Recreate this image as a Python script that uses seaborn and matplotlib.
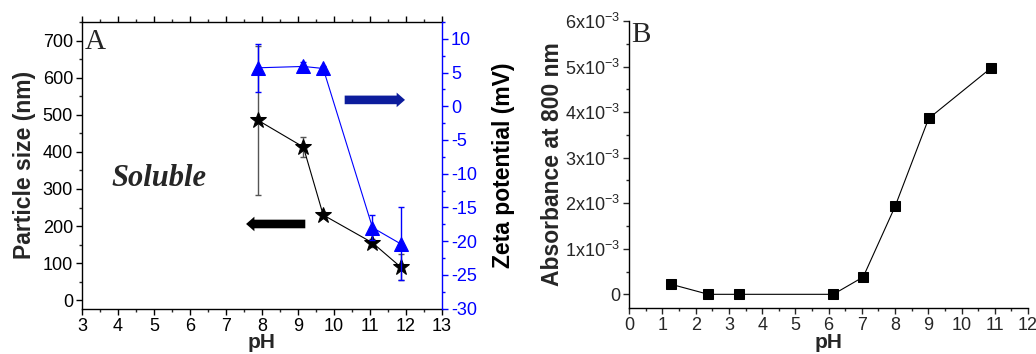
import matplotlib
matplotlib.use("Agg")
import matplotlib.pyplot as plt
import seaborn as sns
import pandas as pd
from matplotlib.ticker import MultipleLocator, FixedLocator, FixedFormatter

# ---------------- data ----------------
ph_size = [7.89, 9.15, 9.70, 11.07, 11.85]
size_nm = [485, 413, 230, 155, 90]
size_err = [200, 28, 8, 10, 34]

ph_zeta = [7.89, 9.15, 9.70, 11.07, 11.85]
zeta_mv = [5.7, 5.9, 5.6, -18.0, -20.4]
zeta_err = [3.6, 0.6, 0.3, 1.8, 5.4]

ph_abs = [1.26, 2.38, 3.31, 6.14, 7.04, 8.0, 9.01, 10.89]
absorb = [0.00022, 0.0, 0.0, 0.0, 0.00038, 0.00193, 0.00386, 0.00497]

abs_ticks = [0, 0.001, 0.002, 0.003, 0.004, 0.005, 0.006]
abs_tick_labels = ["0", r"$\mathregular{1x10^{-3}}$", r"$\mathregular{2x10^{-3}}$",
                   r"$\mathregular{3x10^{-3}}$", r"$\mathregular{4x10^{-3}}$",
                   r"$\mathregular{5x10^{-3}}$", r"$\mathregular{6x10^{-3}}$"]

# ---------------- style ----------------
sns.set_style("ticks")
plt.rcParams["font.family"] = ["Liberation Sans", "DejaVu Sans"]
plt.rcParams["mathtext.default"] = "regular"
plt.rcParams["axes.unicode_minus"] = False

BLUE = "#0000ff"
NAVY = "#0c1c9c"
TICK_FS = 13
LABEL_FS = 16.5
XLABEL_FS = 15

fig = plt.figure(figsize=(10.36, 3.54), dpi=100)
axA = fig.add_axes([0.0792, 0.1285, 0.3474, 0.8095])
axZ = axA.twinx()
axB = fig.add_axes([0.6074, 0.130, 0.3849, 0.8107])

df_size = pd.DataFrame({"pH": ph_size, "size": size_nm})
df_zeta = pd.DataFrame({"pH": ph_zeta, "zeta": zeta_mv})
df_abs = pd.DataFrame({"pH": ph_abs, "abs": absorb})

# ---- panel A: particle size ----
axA.errorbar(ph_size, size_nm, yerr=size_err, fmt="none", ecolor="#555555",
             elinewidth=1.0, capsize=2.5, capthick=1.0, zorder=2)
sns.lineplot(data=df_size, x="pH", y="size", ax=axA, color="black", lw=0.8,
             marker="*", markersize=12, markerfacecolor="black",
             markeredgecolor="black", sort=False, zorder=3)

# ---- panel A: zeta potential ----
axZ.errorbar(ph_zeta, zeta_mv, yerr=zeta_err, fmt="none", ecolor=BLUE,
             elinewidth=1.0, capsize=2.5, capthick=1.0, zorder=2)
sns.lineplot(data=df_zeta, x="pH", y="zeta", ax=axZ, color=BLUE, lw=0.8,
             marker="^", markersize=10, markerfacecolor=BLUE,
             markeredgecolor=BLUE, sort=False, zorder=3)

axA.set_xlim(3, 13)
axA.set_ylim(-22, 750)
axZ.set_ylim(-30, 12.5)

axA.xaxis.set_major_locator(MultipleLocator(1))
axA.xaxis.set_minor_locator(MultipleLocator(0.5))
axA.yaxis.set_major_locator(MultipleLocator(100))
axA.yaxis.set_minor_locator(MultipleLocator(50))
axZ.yaxis.set_major_locator(MultipleLocator(5))
axZ.yaxis.set_minor_locator(MultipleLocator(2.5))

for sp in axA.spines.values():
    sp.set_linewidth(1.0)
    sp.set_color("black")
axZ.spines["right"].set_color(BLUE)
axZ.spines["right"].set_linewidth(1.0)
axZ.spines["left"].set_visible(False)
axZ.spines["top"].set_visible(False)
axZ.spines["bottom"].set_visible(False)
axA.spines["right"].set_visible(False)

axA.tick_params(axis="both", which="major", direction="out", length=4.5, width=1.0,
                labelsize=TICK_FS, pad=2, colors="black")
axA.tick_params(axis="both", which="minor", direction="out", length=2.5, width=1.0)
axA.tick_params(axis="x", which="both", top=True)
axZ.tick_params(axis="y", which="major", direction="out", length=4.5, width=1.0,
                labelsize=TICK_FS, pad=2, colors=BLUE)
axZ.tick_params(axis="y", which="minor", direction="out", length=2.5, width=1.0,
                colors=BLUE)

axA.set_xlabel("pH", fontsize=XLABEL_FS, fontweight="bold", labelpad=-1)
axA.set_ylabel("Particle size (nm)", fontsize=LABEL_FS, fontweight="bold", labelpad=5)
axZ.set_ylabel("Zeta potential (mV)", fontsize=LABEL_FS, fontweight="bold", labelpad=11,
               color="black")

axA.text(0.008, 0.975, "A", transform=axA.transAxes, ha="left", va="top",
         fontsize=21, family="Liberation Serif")
axA.text(0.083, 0.455, "Soluble", transform=axA.transAxes, ha="left", va="center",
         fontsize=22, family="Liberation Serif", style="italic", fontweight="bold")

axZ.annotate("", xy=(0.905, 0.728), xytext=(0.722, 0.728), xycoords="axes fraction",
             arrowprops=dict(arrowstyle="simple,head_length=0.6,head_width=1.05,tail_width=0.62",
                             mutation_scale=10, color=NAVY, lw=0))
axZ.annotate("", xy=(0.448, 0.295), xytext=(0.628, 0.295), xycoords="axes fraction",
             arrowprops=dict(arrowstyle="simple,head_length=0.6,head_width=1.05,tail_width=0.62",
                             mutation_scale=10, color="black", lw=0))

# ---- panel B ----
sns.lineplot(data=df_abs, x="pH", y="abs", ax=axB, color="black", lw=0.8,
             marker="s", markersize=7.5, markerfacecolor="black",
             markeredgecolor="black", sort=False)
axB.set_xlim(0, 12)
axB.set_ylim(-0.0003, 0.006)
axB.xaxis.set_major_locator(MultipleLocator(1))
axB.xaxis.set_minor_locator(MultipleLocator(0.5))
axB.yaxis.set_major_locator(FixedLocator(abs_ticks))
axB.yaxis.set_major_formatter(FixedFormatter(abs_tick_labels))
axB.yaxis.set_minor_locator(MultipleLocator(0.0005))
axB.spines["top"].set_visible(False)
axB.spines["right"].set_visible(False)
for sp in ("left", "bottom"):
    axB.spines[sp].set_linewidth(1.0)
    axB.spines[sp].set_color("black")
axB.tick_params(axis="both", which="major", direction="out", length=4.5, width=1.0,
                labelsize=TICK_FS, pad=2)
axB.tick_params(axis="both", which="minor", direction="out", length=2.5, width=1.0)
axB.set_xlabel("pH", fontsize=XLABEL_FS, fontweight="bold", labelpad=-1)
axB.set_ylabel("Absorbance at 800 nm", fontsize=LABEL_FS, fontweight="bold", labelpad=1)
axB.text(0.005, 0.995, "B", transform=axB.transAxes, ha="left", va="top",
         fontsize=21, family="Liberation Serif")

fig.savefig("out.png", dpi=100)
